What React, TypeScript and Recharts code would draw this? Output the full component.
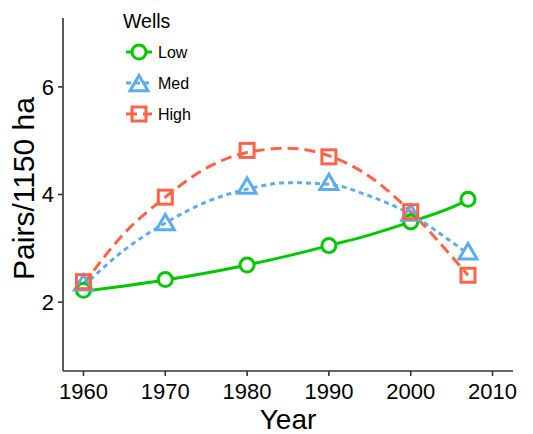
import React from "react";
import { LineChart, Line, XAxis, YAxis } from "recharts";

// ─── Observed values (points) ──────────────────────────────────────────────────
const YEARS = [1960, 1970, 1980, 1990, 2000, 2007];
const LOW = [2.22, 2.42, 2.69, 3.05, 3.49, 3.91];
const MED = [2.35, 3.47, 4.15, 4.22, 3.65, 2.93];
const HIGH = [2.38, 3.95, 4.82, 4.7, 3.68, 2.5];

// ─── Fitted curves ─────────────────────────────────────────────────────────────
const FIT_YEARS = [1960, 1965, 1970, 1975, 1980, 1985, 1990, 1995, 2000, 2005, 2007];
const LOW_FIT = [2.2, 2.3, 2.41, 2.54, 2.69, 2.86, 3.05, 3.25, 3.49, 3.76, 3.9];
const MED_FIT = [2.3, 2.97, 3.47, 3.86, 4.1, 4.22, 4.19, 3.97, 3.63, 3.12, 2.9];
const HIGH_FIT = [2.33, 3.28, 3.95, 4.49, 4.78, 4.86, 4.72, 4.33, 3.68, 2.85, 2.5];

const X_TICKS = [1960, 1970, 1980, 1990, 2000, 2010];
const Y_TICKS = [2, 4, 6];

const GREEN = "#00C800";
const BLUE = "#5CACEE";
const RED = "#FF6347";
const AXIS = "#333333";
const FONT = "Liberation Sans, Arial, sans-serif";

const points = YEARS.map((year, i) => ({ year, low: LOW[i], med: MED[i], high: HIGH[i] }));
const curves = FIT_YEARS.map((year, i) => ({
  year,
  low: LOW_FIT[i],
  med: MED_FIT[i],
  high: HIGH_FIT[i],
}));

const SW = 3;

const CircleMark = ({ cx, cy, color }: any) => (
  <circle cx={cx} cy={cy} r={7} fill="#fff" stroke={color} strokeWidth={SW} />
);
const TriangleMark = ({ cx, cy, color }: any) => (
  <polygon
    points={`${cx},${cy - 8.5} ${cx - 9},${cy + 6.8} ${cx + 9},${cy + 6.8}`}
    fill="none"
    stroke={color}
    strokeWidth={SW}
    strokeLinejoin="miter"
  />
);
const SquareMark = ({ cx, cy, color }: any) => (
  <rect x={cx - 7} y={cy - 7} width={14} height={14} fill="none" stroke={color} strokeWidth={SW} />
);

const TICK = { fill: "#000", fontSize: 22, fontFamily: FONT };

// legend drawn as an overlay so the plot area keeps its full height
const LegendBox = () => (
  <svg width={140} height={130} style={{ position: "absolute", left: 118, top: 0 }}>
    <text x={5} y={28} fontSize={19.5} fontFamily={FONT} fill="#000">
      Wells
    </text>
    <line x1={8} x2={34} y1={52} y2={52} stroke={GREEN} strokeWidth={SW} />
    <CircleMark cx={21} cy={52} color={GREEN} />
    <text x={40} y={58} fontSize={16} fontFamily={FONT}>
      Low
    </text>
    <line x1={8} x2={34} y1={83} y2={83} stroke={BLUE} strokeWidth={SW} strokeDasharray="5 4" />
    <TriangleMark cx={21} cy={84} color={BLUE} />
    <text x={40} y={89} fontSize={16} fontFamily={FONT}>
      Med
    </text>
    <line x1={8} x2={34} y1={114} y2={114} stroke={RED} strokeWidth={SW} strokeDasharray="11 6" />
    <SquareMark cx={21} cy={114} color={RED} />
    <text x={40} y={120} fontSize={16} fontFamily={FONT}>
      High
    </text>
  </svg>
);

export default function App() {
  return (
    <div style={{ position: "absolute", left: 0, top: 0, width: 533, height: 434, background: "#fff" }}>
      <LineChart width={533} height={434} margin={{ top: 18, right: 20, bottom: 0, left: 0 }}>
        <XAxis
          dataKey="year"
          type="number"
          domain={[1957.5, 2012.5]}
          ticks={X_TICKS}
          allowDuplicatedCategory={false}
          height={63}
          tick={TICK}
          tickSize={5}
          tickMargin={7}
          stroke={AXIS}
          strokeWidth={1.6}
          label={{
            value: "Year",
            position: "insideBottom",
            offset: 5,
            style: { fill: "#000", fontSize: 28, fontFamily: FONT },
          }}
        />
        <YAxis
          type="number"
          domain={[0.72, 7.28]}
          ticks={Y_TICKS}
          width={63}
          tick={TICK}
          tickSize={5}
          tickMargin={4}
          stroke={AXIS}
          strokeWidth={1.6}
          label={{
            value: "Pairs/1150 ha",
            angle: -90,
            position: "insideLeft",
            offset: 23,
            dy: -6,
            style: { fill: "#000", fontSize: 30, textAnchor: "middle", fontFamily: FONT },
          }}
        />

        <Line data={curves} dataKey="low" type="monotone" stroke={GREEN} strokeWidth={SW} dot={false} isAnimationActive={false} />
        <Line data={curves} dataKey="med" type="monotone" stroke={BLUE} strokeWidth={SW} strokeDasharray="5 4" dot={false} isAnimationActive={false} />
        <Line data={curves} dataKey="high" type="monotone" stroke={RED} strokeWidth={SW} strokeDasharray="11 6" dot={false} isAnimationActive={false} />

        <Line data={points} dataKey="low" stroke="none" dot={(p: any) => <CircleMark key={p.index} cx={p.cx} cy={p.cy} color={GREEN} />} isAnimationActive={false} />
        <Line data={points} dataKey="med" stroke="none" dot={(p: any) => <TriangleMark key={p.index} cx={p.cx} cy={p.cy} color={BLUE} />} isAnimationActive={false} />
        <Line data={points} dataKey="high" stroke="none" dot={(p: any) => <SquareMark key={p.index} cx={p.cx} cy={p.cy} color={RED} />} isAnimationActive={false} />
      </LineChart>
      <LegendBox />
    </div>
  );
}
